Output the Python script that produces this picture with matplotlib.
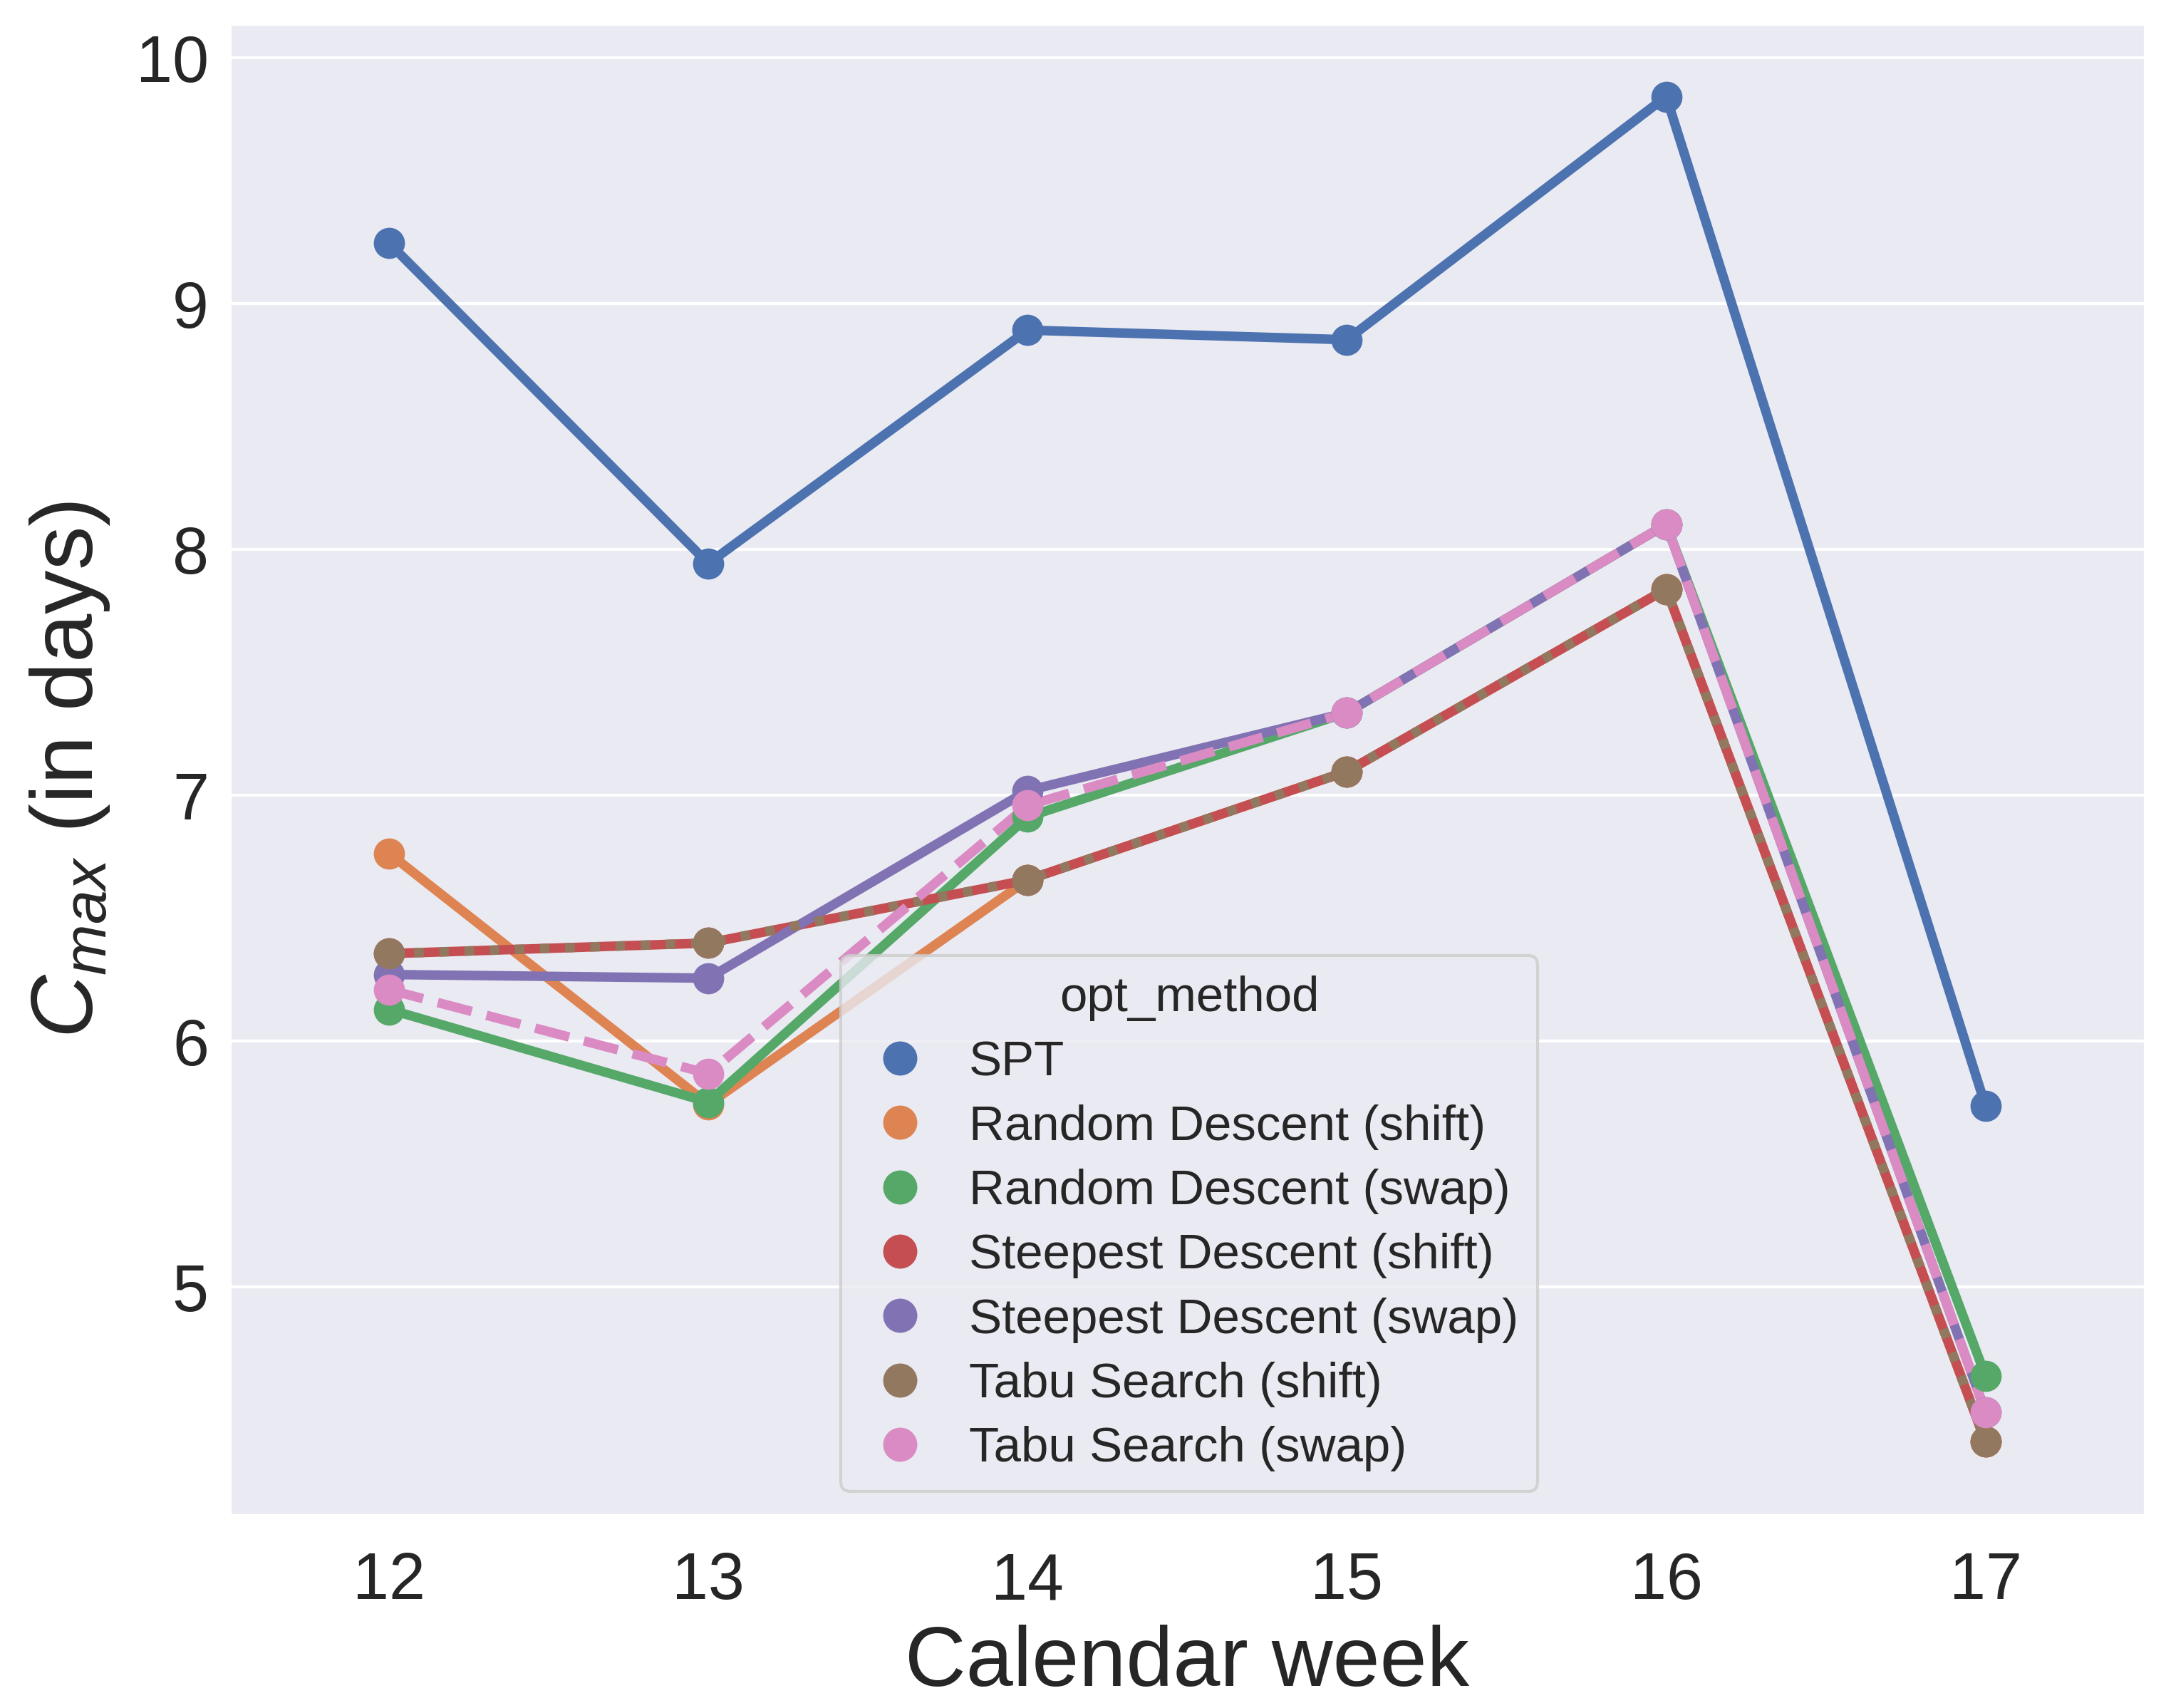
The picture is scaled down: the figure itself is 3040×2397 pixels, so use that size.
import numpy as np
import matplotlib
matplotlib.use("Agg")
from matplotlib import pyplot as plt
from matplotlib.lines import Line2D
import seaborn as sns

# Calendar weeks and mean makespan per optimisation method
weeks = ["12", "13", "14", "15", "16", "17"]
methods = ["SPT", "Random Descent (shift)", "Random Descent (swap)",
           "Steepest Descent (shift)", "Steepest Descent (swap)",
           "Tabu Search (shift)", "Tabu Search (swap)"]

spt = [9.247, 7.944, 8.893, 8.854, 9.843, 5.737]
rd_shift = [6.765, 5.744, 6.657, 7.098, 7.840, 4.371]
rd_swap = [6.130, 5.753, 6.913, 7.337, 8.103, 4.639]
sd_shift = [6.357, 6.400, 6.657, 7.098, 7.840, 4.371]
sd_swap = [6.272, 6.257, 7.020, 7.337, 8.103, 4.492]
ts_shift = [6.357, 6.400, 6.657, 7.098, 7.840, 4.371]
ts_swap = [6.210, 5.869, 6.960, 7.337, 8.103, 4.492]

values = [spt, rd_shift, rd_swap, sd_shift, sd_swap, ts_shift, ts_swap]
linestyles = ["-", "-", "-", "-", "-", ":", "--"]

sns.set_theme(style="darkgrid")
plt.rcParams["font.family"] = ["Liberation Sans", "DejaVu Sans"]
plt.rcParams["mathtext.fontset"] = "custom"
plt.rcParams["mathtext.rm"] = "Liberation Sans"
plt.rcParams["mathtext.it"] = "Liberation Sans:italic"

colors = sns.color_palette("deep", len(methods))

fig = plt.figure(figsize=(3040 / 300, 2397 / 300), dpi=300)
ax = fig.add_axes([0.1059, 0.1125, 0.8845, 0.8737])

x = np.arange(len(weeks))
for i, (name, vals) in enumerate(zip(methods, values)):
    ax.plot(x, vals, color=colors[i], ls=linestyles[i], lw=3.2, zorder=2 + i * 0.01)
for i, (name, vals) in enumerate(zip(methods, values)):
    ax.plot(x, vals, color=colors[i], ls="none", marker="o", ms=10.5,
            markeredgewidth=0, zorder=3 + i * 0.01)

ax.set_xticks(x)
ax.set_xticklabels(weeks)
ax.set_xlim(-0.5, 5.5)
ax.set_ylim(4.07, 10.14)
ax.set_yticks([5, 6, 7, 8, 9, 10])
ax.grid(axis="x", visible=False)
ax.tick_params(axis="both", labelsize=22, length=0)
ax.tick_params(axis="x", pad=12)
ax.tick_params(axis="y", pad=7)

ax.set_xlabel("Calendar week", fontsize=28.5, labelpad=4)
ax.set_ylabel("$C_{max}$ (in days)", fontsize=29.5, labelpad=8)

handles = [Line2D([], [], color=colors[i], ls="none", marker="o", ms=11.5,
                  markeredgewidth=0) for i in range(len(methods))]
leg = ax.legend(handles, methods, title="opt_method", loc="lower center",
                bbox_to_anchor=(0.501, 0.0), fontsize=16.6, title_fontsize=16.6,
                frameon=True, handletextpad=0.6, handlelength=1.6,
                labelspacing=0.38, borderaxespad=0.5, borderpad=0.4)
leg.get_frame().set_edgecolor("#cccccc")
leg.get_frame().set_facecolor("#EAEAF2")
leg.get_frame().set_alpha(0.8)

fig.savefig("out.png", dpi=300)
